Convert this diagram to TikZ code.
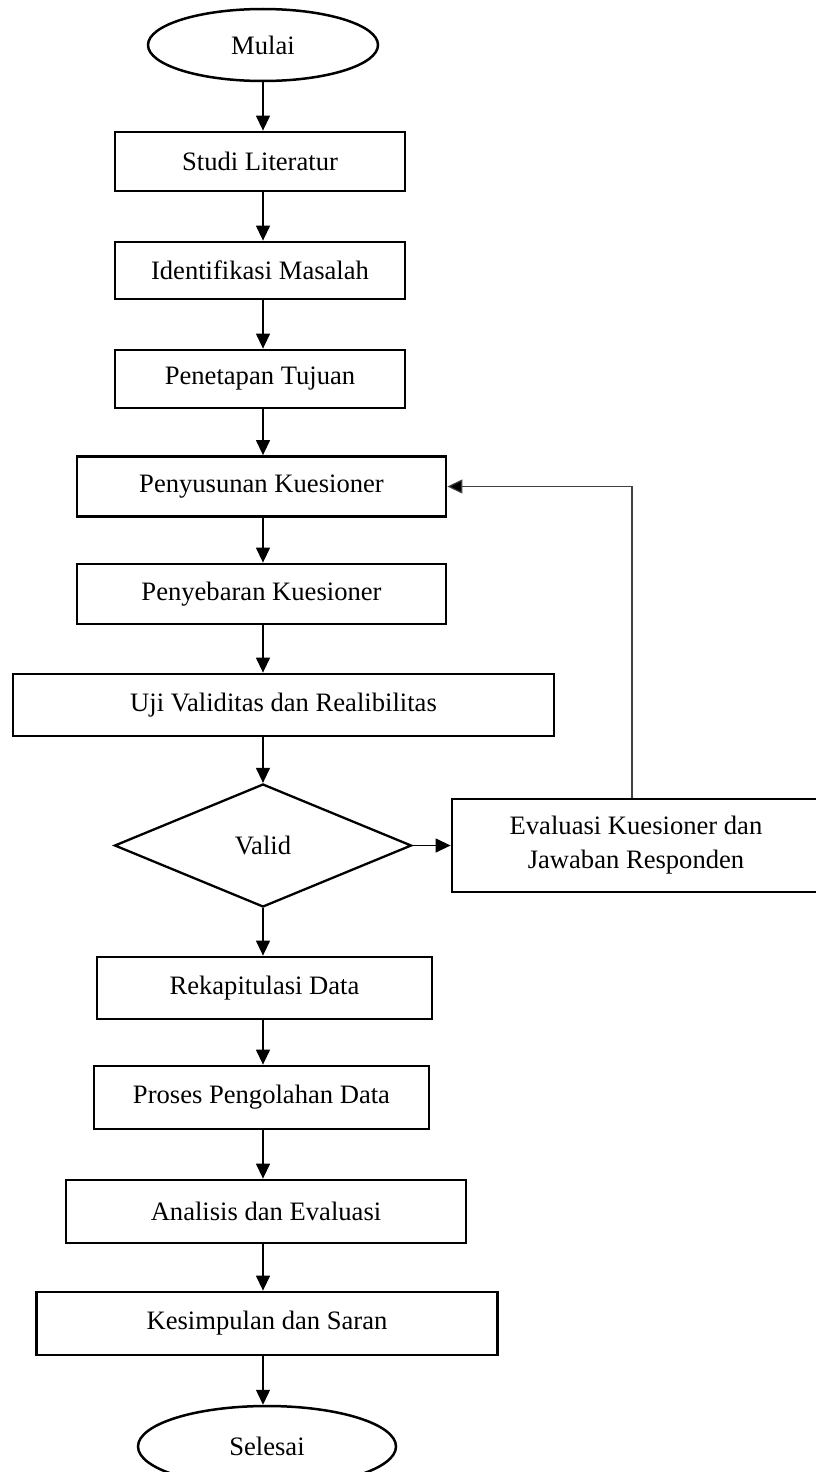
\documentclass[tikz,border=0pt]{standalone}
\usepackage{fontspec}
\setmainfont{Liberation Serif}
\usetikzlibrary{shapes.geometric,arrows.meta}
\tikzset{
  boxnode/.style={draw=black, line width=2.8pt, rectangle, inner sep=0pt, align=center},
  termnode/.style={draw=black, line width=2.5pt, ellipse, inner sep=0pt},
  decnode/.style={draw=black, line width=2.3pt, diamond, inner sep=0pt, aspect=2.41},
  conn/.style={line width=1.3pt, draw=black, -{Triangle[width=14pt,length=15pt]}},
  fbconn/.style={line width=1.2pt, draw=black!75, -{Triangle[width=14pt,length=15pt,fill=black]}}
}
\begin{document}
\begin{tikzpicture}[x=1pt,y=-1pt,font=\fontsize{26.6}{34}\selectfont]
\useasboundingbox (0,0) rectangle (816,1472);
\clip (0,0) rectangle (816,1472);
\fill[white] (0,0) rectangle (816,1472);

\node[termnode, minimum width=230pt, minimum height=72pt] (mulai) at (263,45) {Mulai};
\node[boxnode, minimum width=290pt, minimum height=59pt] (studi) at (260,161.5) {Studi Literatur};
\node[boxnode, minimum width=290pt, minimum height=57pt] (ident) at (260,270.5) {Identifikasi Masalah};
\node[boxnode, minimum width=290pt, minimum height=58pt] (tujuan) at (260,379) {Penetapan Tujuan};
\node[boxnode, minimum width=369pt, minimum height=60pt] (susun) at (261.5,486.5) {Penyusunan Kuesioner};
\node[boxnode, minimum width=369pt, minimum height=60pt] (sebar) at (261.5,594) {Penyebaran Kuesioner};
\node[boxnode, minimum width=541pt, minimum height=62pt] (uji) at (283.5,705) {Uji Validitas dan Realibilitas};
\node[decnode, minimum width=297pt, minimum height=123pt] (valid) at (263,845.5) {Valid};
\node[boxnode, minimum width=368pt, minimum height=93pt] (eval) at (636,845.5) {Evaluasi Kuesioner dan\\Jawaban Responden};
\node[boxnode, minimum width=335pt, minimum height=62pt] (rekap) at (264.5,988) {Rekapitulasi Data};
\node[boxnode, minimum width=335pt, minimum height=63pt] (proses) at (261.5,1097.5) {Proses Pengolahan Data};
\node[boxnode, minimum width=400pt, minimum height=63pt] (analisis) at (266,1211.5) {Analisis dan Evaluasi};
\node[boxnode, minimum width=461pt, minimum height=63pt] (simpul) at (267,1323.5) {Kesimpulan dan Saran};
\node[termnode, minimum width=258pt, minimum height=81pt] (selesai) at (267,1446.5) {Selesai};

\coordinate (col) at (263,0);
\coordinate (fb) at (632,0);

\draw[conn] (mulai.south -| col) -- (studi.north -| col);
\draw[conn] (studi.south -| col) -- (ident.north -| col);
\draw[conn] (ident.south -| col) -- (tujuan.north -| col);
\draw[conn] (tujuan.south -| col) -- (susun.north -| col);
\draw[conn] (susun.south -| col) -- (sebar.north -| col);
\draw[conn] (sebar.south -| col) -- (uji.north -| col);
\draw[conn] (uji.south -| col) -- (valid.north);
\draw[conn] (valid.east) -- (valid.east -| eval.west);
\draw[fbconn] (eval.north -| fb) |- (susun.east);
\draw[conn] (valid.south) -- (rekap.north -| col);
\draw[conn] (rekap.south -| col) -- (proses.north -| col);
\draw[conn] (proses.south -| col) -- (analisis.north -| col);
\draw[conn] (analisis.south -| col) -- (simpul.north -| col);
\draw[conn] (simpul.south -| col) -- (selesai.north -| col);
\end{tikzpicture}
\end{document}
